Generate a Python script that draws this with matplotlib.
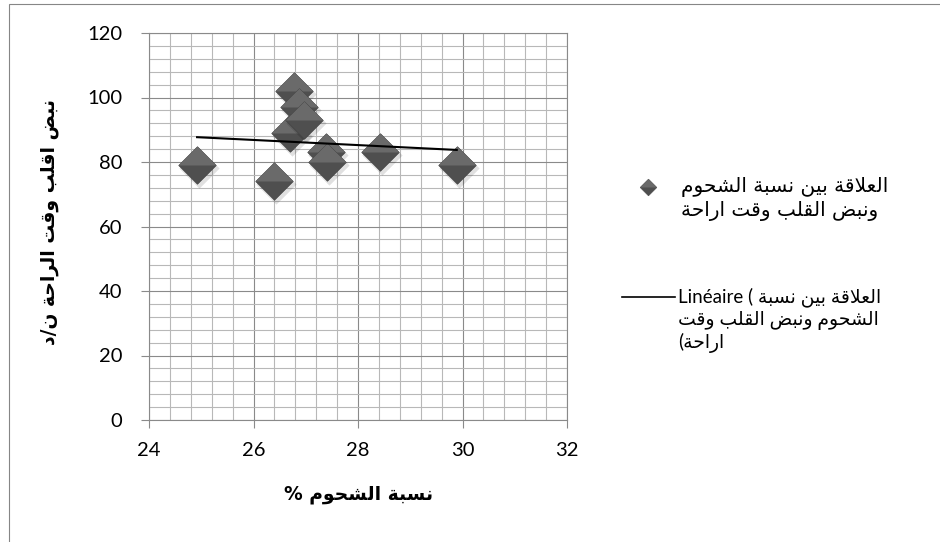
import numpy as np
import matplotlib.pyplot as plt
from matplotlib.lines import Line2D
from matplotlib.patches import Rectangle
from matplotlib.ticker import MultipleLocator
from matplotlib.transforms import offset_copy

# fat percentage vs resting heart rate
fat = [24.92, 26.40, 26.78, 26.88, 26.70, 26.97, 27.38, 27.41, 28.43, 29.89]
pulse = [79, 74, 102, 97, 89, 93, 83, 80, 83, 79]
x_ticks = [24, 26, 28, 30, 32]
y_ticks = [0, 20, 40, 60, 80, 100, 120]

x_label = "نسبة الشحوم %"
y_label = "نبض اقلب وقت الراحة ن/د"
series_lines = ["العلاقة بين نسبة الشحوم", "ونبض القلب وقت اراحة"]
trend_lines = ["العلاقة بين نسبة", "الشحوم ونبض القلب وقت", "اراحة"]

# arabic letter forms: isolated, final, initial, medial
FORMS = {
    'ا': (0xFE8D, 0xFE8E, None, None),
    'ب': (0xFE8F, 0xFE90, 0xFE91, 0xFE92),
    'ة': (0xFE93, 0xFE94, None, None),
    'ت': (0xFE95, 0xFE96, 0xFE97, 0xFE98),
    'ح': (0xFEA1, 0xFEA2, 0xFEA3, 0xFEA4),
    'د': (0xFEA9, 0xFEAA, None, None),
    'ر': (0xFEAD, 0xFEAE, None, None),
    'س': (0xFEB1, 0xFEB2, 0xFEB3, 0xFEB4),
    'ش': (0xFEB5, 0xFEB6, 0xFEB7, 0xFEB8),
    'ض': (0xFEBD, 0xFEBE, 0xFEBF, 0xFEC0),
    'ع': (0xFEC9, 0xFECA, 0xFECB, 0xFECC),
    'ق': (0xFED5, 0xFED6, 0xFED7, 0xFED8),
    'ل': (0xFEDD, 0xFEDE, 0xFEDF, 0xFEE0),
    'م': (0xFEE1, 0xFEE2, 0xFEE3, 0xFEE4),
    'ن': (0xFEE5, 0xFEE6, 0xFEE7, 0xFEE8),
    'و': (0xFEED, 0xFEEE, None, None),
    'ي': (0xFEF1, 0xFEF2, 0xFEF3, 0xFEF4),
}


def shape(s):
    out = []
    i = 0
    while i < len(s):
        c = s[i]
        if c not in FORMS:
            out.append(c)
            i += 1
            continue
        prev = s[i - 1] if i > 0 else None
        join_prev = prev in FORMS and FORMS[prev][2] is not None
        if c == 'ل' and i + 1 < len(s) and s[i + 1] == 'ا':
            out.append(chr(0xFEFC if join_prev else 0xFEFB))
            i += 2
            continue
        nxt = s[i + 1] if i + 1 < len(s) else None
        join_next = FORMS[c][2] is not None and nxt in FORMS
        iso, fin, ini, med = FORMS[c]
        if join_prev and join_next:
            g = med
        elif join_prev:
            g = fin
        elif join_next:
            g = ini
        else:
            g = iso
        out.append(chr(g))
        i += 1
    return ''.join(out)


def ar(s):
    return shape(s)[::-1]


W, H = 940, 542
fig = plt.figure(figsize=(W / 100, H / 100), dpi=100)


def fx(p):
    return p / W


def fy(p):
    return 1 - p / H


GRID_MAJOR = '#8a8a8a'
GRID_MINOR = '#b8b8b8'
LATIN = ['Lato', 'DejaVu Sans']

ax = fig.add_axes([fx(149), fy(420), fx(567) - fx(149), fy(33) - fy(420)])
ax.set_xlim(24, 32)
ax.set_ylim(0, 120)
ax.set_xticks(x_ticks)
ax.set_yticks(y_ticks)
ax.xaxis.set_minor_locator(MultipleLocator(0.4))
ax.yaxis.set_minor_locator(MultipleLocator(4))
ax.grid(which='major', color=GRID_MAJOR, lw=0.8)
ax.grid(which='minor', color=GRID_MINOR, lw=0.8)
ax.set_axisbelow(True)
ax.tick_params(which='major', length=6, width=0.8, color=GRID_MAJOR,
               labelsize=14.5, labelcolor='black')
ax.tick_params(axis='x', pad=10)
ax.tick_params(axis='y', pad=13)
ax.tick_params(which='minor', length=0)
for lab in ax.get_xticklabels() + ax.get_yticklabels():
    lab.set_family(LATIN)
for sp in ax.spines.values():
    sp.set_color(GRID_MAJOR)
    sp.set_linewidth(0.8)

DIAMOND = [(-1, 0), (0, 1), (1, 0), (0, -1), (-1, 0)]
UPPER = [(-1, 0), (0, 1), (1, 0), (-1, 0)]
MS = 27

shadow = offset_copy(ax.transData, fig=fig, x=2, y=-3, units='dots')
for i, (xv, yv) in enumerate(zip(fat, pulse)):
    z = 3 + i * 0.01
    ax.plot([xv], [yv], ls='none', marker=DIAMOND, ms=MS + 2, mfc='#000000',
            mec='none', alpha=0.12, transform=shadow, zorder=z, clip_on=False)
    ax.plot([xv], [yv], ls='none', marker=DIAMOND, ms=MS, mfc='#4f4f4f',
            mec='#444444', mew=0.5, zorder=z, clip_on=False)
    ax.plot([xv], [yv], ls='none', marker=UPPER, ms=MS, mfc='#6a6a6a',
            mec='none', zorder=z, clip_on=False)

# linear trend line over the data range
coef = np.polyfit(fat, pulse, 1)
xs = np.array([min(fat), max(fat)])
ax.plot(xs, np.polyval(coef, xs), color='black', lw=1.5, zorder=5)

fig.text(fx(359), fy(494), ar(x_label), ha='center', va='center',
         fontsize=13.5, fontweight='bold', family='DejaVu Sans')
fig.text(fx(50), fy(222), ar(y_label), ha='center', va='center',
         rotation=90, fontsize=13.5, fontweight='bold', family='DejaVu Sans')

# legend
fig.add_artist(Line2D([fx(648)], [fy(187)], transform=fig.transFigure,
                      ls='none', marker=DIAMOND, ms=12, mfc='#4f4f4f',
                      mec='#444444', mew=0.4))
fig.add_artist(Line2D([fx(648)], [fy(187)], transform=fig.transFigure,
                      ls='none', marker=UPPER, ms=12, mfc='#6a6a6a',
                      mec='none'))
for k, line in enumerate(series_lines):
    fig.text(fx(681), fy(187 + 24 * k), ar(line), ha='left', va='center',
             fontsize=14.5, family='DejaVu Sans')

fig.add_artist(Line2D([fx(622), fx(675)], [fy(297), fy(297)],
                      transform=fig.transFigure, color='black', lw=1.2))
trend_text = ['Linéaire ( ' + ar(trend_lines[0]),
              ar(trend_lines[1]),
              '(' + ar(trend_lines[2])]
for k, line in enumerate(trend_text):
    fig.text(fx(678), fy(297 + 23 * k), line, ha='left', va='center',
             fontsize=13.5, family=LATIN)

# chart frame
fig.add_artist(Rectangle((fx(9), -0.1), 1.2, fy(4) + 0.1,
                         transform=fig.transFigure, fill=False,
                         ec='#868686', lw=0.8))

fig.savefig('out.png', dpi=100, facecolor='white')
